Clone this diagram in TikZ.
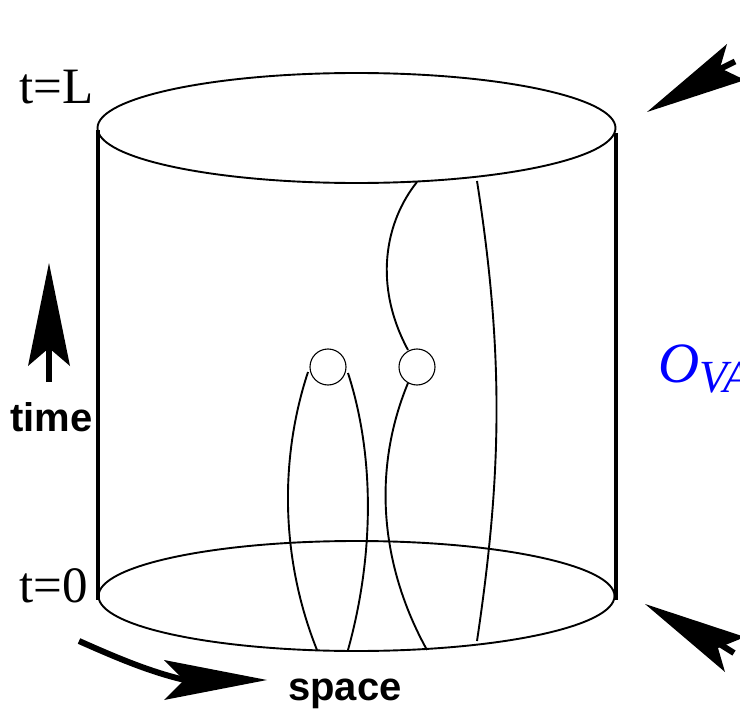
\documentclass[tikz,border=0pt]{standalone}
\usepackage{fontspec}
\setmainfont{Liberation Serif}
\setsansfont{Liberation Sans}
\begin{document}
\begin{tikzpicture}[x=1pt,y=-1pt,
  thinline/.style={line width=1.9pt,black},
  heavyline/.style={line width=4pt,black},
  loopc/.style={circle,draw=black,line width=1.1pt,minimum size=36pt,inner sep=0pt,fill=white},
  serif/.style={font=\fontsize{51}{51}\selectfont,inner sep=0pt,anchor=base west},
  bold/.style={font=\sffamily\bfseries\fontsize{40}{40}\selectfont,inner sep=0pt,anchor=base west},
  tip/.style={fill=black,draw=none}]
\useasboundingbox (0,0) rectangle (740,709);
\clip (0,0) rectangle (740,709);
% cylinder
\draw[thinline] (356.5,128) ellipse [x radius=259, y radius=55];
\draw[thinline] (356.5,596) ellipse [x radius=258, y radius=55];
\draw[heavyline] (98,130) -- (98,600);
\draw[heavyline] (616,133) -- (616,600);
% loops
\node[loopc] (a) at (328,367) {};
\node[loopc] (b) at (417,367) {};
% world lines
\draw[thinline] (417,182) .. controls (385,222) and (373,285) .. (408,350);
\draw[thinline] (477,181) .. controls (505,360) and (501,480) .. (477,641);
\draw[thinline] (308,372) .. controls (279,460) and (281,560) .. (317,650);
\draw[thinline] (348,373) .. controls (376,460) and (373,560) .. (348,650);
\draw[thinline] (408,383) .. controls (372,470) and (380,565) .. (427,650);
% labels
\node[serif] (tl) at (19,103) {t=L};
\node[serif] (t0) at (19,602) {t=0};
\node[bold] (time) at (10,431) {time};
\node[bold] (space) at (288,700) {space};
\node[inner sep=0pt,anchor=base west,text=blue,font=\itshape\fontsize{57}{57}\selectfont] (o) at (658,382) {O};
\node[inner sep=0pt,anchor=base west,text=blue,font=\itshape\fontsize{46}{46}\selectfont] (va) at (699,392) {VA};
% time arrow
\draw[line width=6pt] (49,382) -- (49,345);
\fill[tip] (49,263) -- (70,366) -- (49,348) -- (28,366) -- cycle;
% space arrow
\draw[line width=6pt] (79,641) .. controls (115,657) and (150,672) .. (185,680);
\fill[tip] (267,680) -- (164,700) -- (184,680) -- (164,660) -- cycle;
% top right arrow
\draw[line width=6pt] (718,70) -- (735,61.5);
\fill[tip] (647,112) -- (727,44) -- (720,68) -- (745,80) -- cycle;
% bottom right arrow
\draw[line width=6pt] (718,643) -- (734,653);
\fill[tip] (645,604) -- (745,637) -- (718,648) -- (725,672) -- cycle;
\end{tikzpicture}
\end{document}
